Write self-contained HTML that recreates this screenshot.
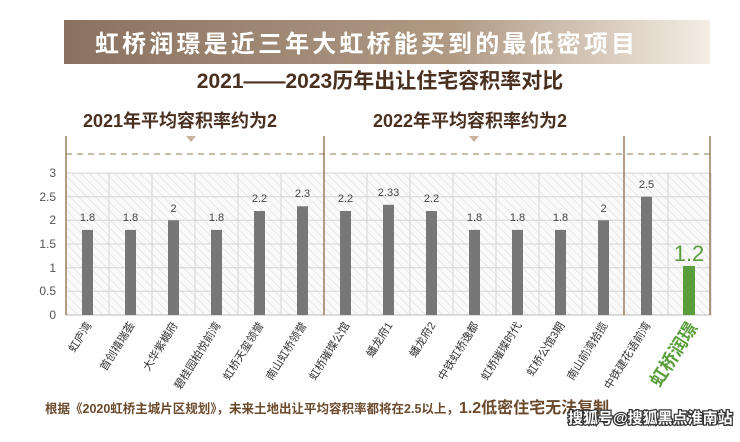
<!DOCTYPE html><html><head><meta charset="utf-8"><style>
body{margin:0;width:740px;height:437px;background:#fff;overflow:hidden;font-family:"Liberation Sans","Noto Sans CJK SC",sans-serif}
</style></head><body>
<svg width="740" height="437" xmlns="http://www.w3.org/2000/svg" font-family="Liberation Sans, Noto Sans CJK SC, sans-serif">
<defs>
<linearGradient id="bg" x1="0" x2="1"><stop offset="0" stop-color="#8a7260"/><stop offset="0.6" stop-color="#b09a84"/><stop offset="1" stop-color="#f4ede4"/></linearGradient>
<pattern id="h" width="6" height="6" patternUnits="userSpaceOnUse" patternTransform="rotate(-45)"><rect width="6" height="6" fill="#fafafa"/><line x1="0" y1="0" x2="0" y2="6" stroke="#dcdcdc" stroke-width="1.2"/></pattern>
</defs>
<rect x="64" y="20" width="646" height="44" fill="url(#bg)"/>
<text x="95" y="52" font-size="24" font-weight="bold" fill="#fff" textLength="540">虹桥润璟是近三年大虹桥能买到的最低密项目</text>
<text x="380" y="88" font-size="21" font-weight="bold" fill="#4a3020" text-anchor="middle">2021——2023历年出让住宅容积率对比</text>
<text x="180" y="127" font-size="18" font-weight="bold" fill="#4a3020" text-anchor="middle">2021年平均容积率约为2</text>
<text x="470" y="127" font-size="18" font-weight="bold" fill="#4a3020" text-anchor="middle">2022年平均容积率约为2</text>
<polygon points="186,136 196,136 191,142" fill="#c8b49a"/>
<polygon points="469,136 479,136 474,142" fill="#c8b49a"/>
<line x1="66" y1="154" x2="710" y2="154" stroke="#9a7a5a" stroke-width="1" stroke-dasharray="6,5"/>
<rect x="66" y="173" width="645" height="142" fill="url(#h)"/>
<g stroke="#d4d4d4" stroke-width="1">
<line x1="66" y1="173" x2="711" y2="173"/><line x1="66" y1="196.7" x2="711" y2="196.7"/><line x1="66" y1="220.3" x2="711" y2="220.3"/><line x1="66" y1="244" x2="711" y2="244"/><line x1="66" y1="267.7" x2="711" y2="267.7"/><line x1="66" y1="291.3" x2="711" y2="291.3"/>
<line x1="109" y1="173" x2="109" y2="315"/><line x1="152" y1="173" x2="152" y2="315"/><line x1="195" y1="173" x2="195" y2="315"/><line x1="238" y1="173" x2="238" y2="315"/><line x1="281" y1="173" x2="281" y2="315"/><line x1="367" y1="173" x2="367" y2="315"/><line x1="410" y1="173" x2="410" y2="315"/><line x1="453" y1="173" x2="453" y2="315"/><line x1="496" y1="173" x2="496" y2="315"/><line x1="539" y1="173" x2="539" y2="315"/><line x1="582" y1="173" x2="582" y2="315"/><line x1="668" y1="173" x2="668" y2="315"/><line x1="711" y1="173" x2="711" y2="315"/>
</g>
<line x1="66" y1="315" x2="711" y2="315" stroke="#bbb"/>
<g stroke="#8a6a4a" stroke-width="1.3">
<line x1="66" y1="136" x2="66" y2="315"/><line x1="324" y1="136" x2="324" y2="315"/><line x1="624" y1="136" x2="624" y2="315"/><line x1="710" y1="136" x2="710" y2="315"/>
</g>
<g font-size="12" fill="#555" text-anchor="end">
<text x="56" y="177">3</text><text x="56" y="201">2.5</text><text x="56" y="224">2</text><text x="56" y="248">1.5</text><text x="56" y="272">1</text><text x="56" y="295">0.5</text><text x="56" y="319">0</text>
</g>
<g fill="#777">
<rect x="82" y="229.9" width="11" height="85.1"/><rect x="125" y="229.9" width="11" height="85.1"/><rect x="168" y="220.3" width="11" height="94.7"/><rect x="211" y="229.9" width="11" height="85.1"/><rect x="254" y="211" width="11" height="104"/><rect x="297" y="206.3" width="11" height="108.7"/><rect x="340" y="211" width="11" height="104"/><rect x="383" y="204.8" width="11" height="110.2"/><rect x="426" y="211" width="11" height="104"/><rect x="469" y="229.9" width="11" height="85.1"/><rect x="512" y="229.9" width="11" height="85.1"/><rect x="555" y="229.9" width="11" height="85.1"/><rect x="598" y="220.3" width="11" height="94.7"/><rect x="641" y="196.7" width="11" height="118.3"/>
</g>
<rect x="683" y="266" width="12" height="49" fill="#5a9e3c"/>
<g font-size="11" fill="#444" text-anchor="middle">
<text x="87.5" y="221">1.8</text><text x="130.5" y="221">1.8</text><text x="173.5" y="212">2</text><text x="216.5" y="221">1.8</text><text x="259.5" y="202">2.2</text><text x="302.5" y="197">2.3</text><text x="345.5" y="202">2.2</text><text x="388.5" y="196">2.33</text><text x="431.5" y="202">2.2</text><text x="474.5" y="221">1.8</text><text x="517.5" y="221">1.8</text><text x="560.5" y="221">1.8</text><text x="603.5" y="212">2</text><text x="646.5" y="188">2.5</text>
</g>
<text x="689" y="261" font-size="22" fill="#5a9e3c" text-anchor="middle">1.2</text>
<g font-size="11" fill="#333" text-anchor="end">
<text transform="translate(92,325) rotate(-58)">虹庐湾</text>
<text transform="translate(135,325) rotate(-58)">首创禧瑞荟</text>
<text transform="translate(178,325) rotate(-58)">大华紫樾府</text>
<text transform="translate(221,325) rotate(-58)">碧桂园柏悦前湾</text>
<text transform="translate(264,325) rotate(-58)">虹桥天玺领誉</text>
<text transform="translate(307,325) rotate(-58)">南山虹桥领誉</text>
<text transform="translate(350,325) rotate(-58)">虹桥璀璨公馆</text>
<text transform="translate(393,325) rotate(-58)">蟠龙府1</text>
<text transform="translate(436,325) rotate(-58)">蟠龙府2</text>
<text transform="translate(479,325) rotate(-58)">中铁虹桥逸都</text>
<text transform="translate(522,325) rotate(-58)">虹桥璀璨时代</text>
<text transform="translate(565,325) rotate(-58)">虹桥公馆3期</text>
<text transform="translate(608,325) rotate(-58)">南山前湾拾揽</text>
<text transform="translate(651,325) rotate(-58)">中铁建花语前湾</text>
</g>
<text transform="translate(698,327) rotate(-58)" font-size="18" font-weight="bold" fill="#5a9e3c" text-anchor="end">虹桥润璟</text>
<text x="45" y="413" font-size="12.5" font-weight="bold" fill="#6b4a2c">根据《2020虹桥主城片区规划》，未来土地出让平均容积率都将在2.5以上，<tspan font-size="16">1.2低密住宅无法复制</tspan></text>
<text x="568" y="423" font-size="15" font-weight="bold" fill="#fff" stroke="#333" stroke-width="2.5" paint-order="stroke">搜狐号@搜狐黑点淮南站</text>
</svg>
</body></html>
